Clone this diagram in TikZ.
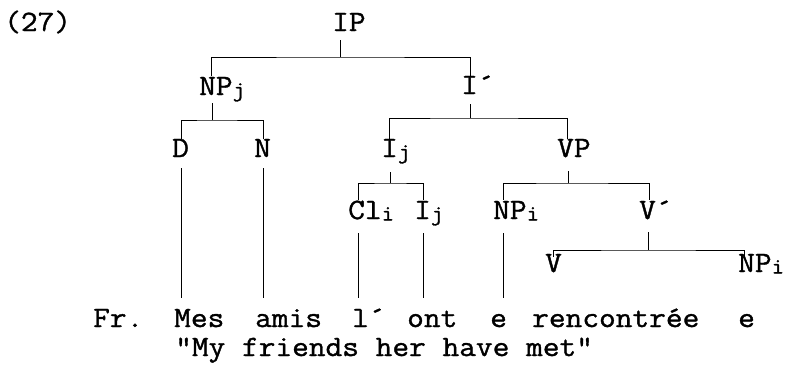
\documentclass[tikz,border=0pt]{standalone}
\usepackage{fontspec}
\setmonofont[FakeStretch=1.1,FakeBold=1.2]{Latin Modern Mono}
\newcommand\lsub[1]{\raisebox{-1.5pt}{\fontsize{22}{22}\selectfont #1}}
\begin{document}
\begin{tikzpicture}[x=1pt,y=-1pt,
  lab/.style={font=\ttfamily\fontsize{29.5}{29.5}\selectfont, inner sep=0pt, anchor=base west},
  br/.style={line width=1pt}]
\useasboundingbox (0,0) rectangle (786,372);
% labels
\node[lab] (ex)   at (4,31)   {(27)};
\node[lab] (ip)   at (332,31) {IP};
\node[lab] (npj)  at (199,95) {NP\lsub{j}};
\node[lab] (ibar) at (461,94) {I´};
\node[lab] (d)    at (172,157) {D};
\node[lab] (n)    at (254,157) {N};
\node[lab] (ij)   at (381,157) {I\lsub{j}};
\node[lab] (vp)   at (557,157) {VP};
\node[lab] (cli)  at (348,219) {Cl\lsub{i}};
\node[lab] (ij2)  at (414,219) {I\lsub{j}};
\node[lab] (npi)  at (493,219) {NP\lsub{i}};
\node[lab] (vbar) at (639,219) {V´};
\node[lab] (v)    at (545,272) {V};
\node[lab] (npi2) at (738,272) {NP\lsub{i}};
% words
\node[lab] (fr)   at (93,327)  {Fr.};
\node[lab] (mes)  at (174,327) {Mes};
\node[lab] (amis) at (255,327) {amis};
\node[lab] (l)    at (352,327) {l´};
\node[lab] (ont)  at (407,327) {ont};
\node[lab] (e1)   at (490,327) {e};
\node[lab] (ren)  at (532,327) {rencontrée};
\node[lab] (e2)   at (738,327) {e};
\node[lab] (gl)   at (175,356) {"My friends her have met"};
% branch coordinates
\coordinate (ip-s) at (340,40);   \coordinate (ip-b) at (340,57);
\coordinate (npj-t) at (211,76);  \coordinate (ibar-t) at (470,76);
\coordinate (npj-s) at (212,103); \coordinate (npj-b) at (212,120);
\coordinate (d-t) at (181,139);   \coordinate (n-t) at (263,139);
\coordinate (ibar-s) at (470,104);\coordinate (ibar-b) at (470,118);
\coordinate (ij-t) at (389,139);  \coordinate (vp-t) at (567,139);
\coordinate (d-s) at (181,168);   \coordinate (mes-t) at (181,298);
\coordinate (n-s) at (263,168);   \coordinate (amis-t) at (263,298);
\coordinate (ij-s) at (390,172);  \coordinate (ij-b) at (390,183);
\coordinate (cli-t) at (358,200); \coordinate (ij2-t) at (423,200);
\coordinate (vp-s) at (568,171);  \coordinate (vp-b) at (568,183);
\coordinate (npi-t) at (503,200); \coordinate (vbar-t) at (649,200);
\coordinate (cli-s) at (358,233); \coordinate (l-t) at (358,298);
\coordinate (ij2-s) at (423,233); \coordinate (ont-t) at (423,298);
\coordinate (npi-s) at (503,233); \coordinate (e1-t) at (503,298);
\coordinate (vbar-s) at (648,232);\coordinate (vbar-b) at (648,250);
\coordinate (v-t) at (553,257);   \coordinate (npi2-t) at (744,257);
% connectors
\draw[br] (ip-s) -- (ip-b);
\draw[br] (npj-t) |- (ip-b) -| (ibar-t);
\draw[br] (npj-s) -- (npj-b);
\draw[br] (d-t) |- (npj-b) -| (n-t);
\draw[br] (ibar-s) -- (ibar-b);
\draw[br] (ij-t) |- (ibar-b) -| (vp-t);
\draw[br] (d-s) -- (mes-t);
\draw[br] (n-s) -- (amis-t);
\draw[br] (ij-s) -- (ij-b);
\draw[br] (cli-t) |- (ij-b) -| (ij2-t);
\draw[br] (vp-s) -- (vp-b);
\draw[br] (npi-t) |- (vp-b) -| (vbar-t);
\draw[br] (cli-s) -- (l-t);
\draw[br] (ij2-s) -- (ont-t);
\draw[br] (npi-s) -- (e1-t);
\draw[br] (vbar-s) -- (vbar-b);
\draw[br] (v-t) |- (vbar-b) -| (npi2-t);
\end{tikzpicture}
\end{document}
